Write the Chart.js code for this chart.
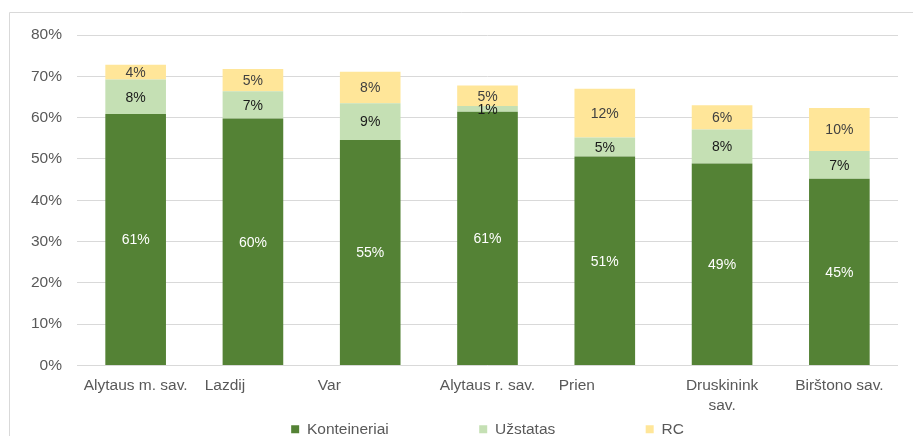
<!DOCTYPE html>
<html>
<head>
<meta charset="utf-8">
<script src="https://cdn.jsdelivr.net/npm/chart.js@4/dist/chart.umd.min.js"></script>
<style>
    html, body { margin: 0; padding: 0; background: #ffffff; }
    #wrap { width: 913px; height: 436px; position: relative; }
</style>
</head>
<body>
<div id="wrap"><canvas id="chart"></canvas></div>
<script>
// kategorijos ir reikšmės (%)
const categories = ['Alytaus m. sav.', 'Lazdij', 'Var', 'Alytaus r. sav.', 'Prien', ['Druskinink', 'sav.'], 'Birštono sav.'];
const konteineriai = [60.9, 59.8, 54.6, 61.4, 50.6, 48.9, 45.2];
const uzstatas = [8.3, 6.6, 8.9, 1.4, 4.6, 8.2, 6.7];
const rc = [3.6, 5.4, 7.6, 5.0, 11.8, 5.9, 10.4];
const seriesNames = ['Konteineriai', 'Užstatas', 'RC'];
const yMax = 80;
const yStep = 10;

// trailing spaces so the cut labels sit where the full names would start
const labelPad = [0, 13, 19, 0, 13, 0, 0];

const fontFamily = '"Liberation Sans", Arial, sans-serif';
const colors = {
    green: '#548235',
    lightGreen: '#C5E0B4',
    yellow: '#FFE699',
    grid: '#d9d9d9',
    text: '#595959'
};
const labelColors = ['#ffffff', '#1a1a1a', '#404040'];

// rėmelis aplink diagramą
const frame = {
    id: 'frame',
    beforeDraw(chart) {
        const ctx = chart.ctx;
        ctx.save();
        ctx.strokeStyle = colors.grid;
        ctx.lineWidth = 1;
        ctx.beginPath();
        ctx.moveTo(9.5, chart.height);
        ctx.lineTo(9.5, 12.5);
        ctx.lineTo(chart.width, 12.5);
        ctx.stroke();
        ctx.restore();
    }
};

// duomenų etiketės stulpelių viduje
const barLabels = {
    id: 'barLabels',
    afterDatasetsDraw(chart) {
        const ctx = chart.ctx;
        ctx.save();
        ctx.font = '14px ' + fontFamily;
        ctx.textAlign = 'center';
        ctx.textBaseline = 'middle';
        chart.data.datasets.forEach((ds, i) => {
            const meta = chart.getDatasetMeta(i);
            meta.data.forEach((bar, j) => {
                ctx.fillStyle = labelColors[i];
                ctx.fillText(Math.round(ds.data[j]) + '%', bar.x, (bar.y + bar.base) / 2 + 1);
            });
        });
        ctx.restore();
    }
};

new Chart(document.getElementById('chart'), {
    type: 'bar',
    data: {
        labels: categories,
        datasets: [
            { label: seriesNames[0], data: konteineriai, backgroundColor: colors.green },
            { label: seriesNames[1], data: uzstatas, backgroundColor: colors.lightGreen },
            { label: seriesNames[2], data: rc, backgroundColor: colors.yellow }
        ]
    },
    options: {
        responsive: true,
        maintainAspectRatio: false,
        animation: false,
        categoryPercentage: 1,
        barPercentage: 0.517,
        layout: {
            padding: { top: 35, left: 9, right: 15, bottom: -11 }
        },
        plugins: {
            tooltip: { enabled: false },
            legend: {
                position: 'bottom',
                fullSize: false,
                labels: {
                    color: colors.text,
                    boxWidth: 8,
                    boxHeight: 8,
                    padding: 0,
                    font: { family: fontFamily, size: 15.5 },
                    generateLabels(chart) {
                        const items = Chart.defaults.plugins.legend.labels.generateLabels(chart);
                        items.forEach((item, i) => {
                            item.lineWidth = 0;
                            if (i < items.length - 1) item.text = item.text + ' '.repeat(21);
                        });
                        return items;
                    }
                }
            }
        },
        scales: {
            x: {
                stacked: true,
                afterFit(scale) { scale.height = 56; },
                grid: { display: false, drawTicks: false },
                border: { display: false },
                ticks: {
                    color: colors.text,
                    maxRotation: 0,
                    autoSkip: false,
                    padding: 10,
                    font: { family: fontFamily, size: 15.5, lineHeight: 1.3 },
                    callback(value, index) {
                        const c = categories[index];
                        return Array.isArray(c) ? c : c + ' '.repeat(labelPad[index]);
                    }
                }
            },
            y: {
                stacked: true,
                min: 0,
                max: yMax,
                afterFit(scale) { scale.width = 68; },
                grid: { color: colors.grid, drawTicks: false },
                border: { display: false },
                ticks: {
                    stepSize: yStep,
                    color: colors.text,
                    padding: 15,
                    font: { family: fontFamily, size: 15.5 },
                    callback: v => v + '%'
                }
            }
        }
    },
    plugins: [frame, barLabels]
});
</script>
</body>
</html>
